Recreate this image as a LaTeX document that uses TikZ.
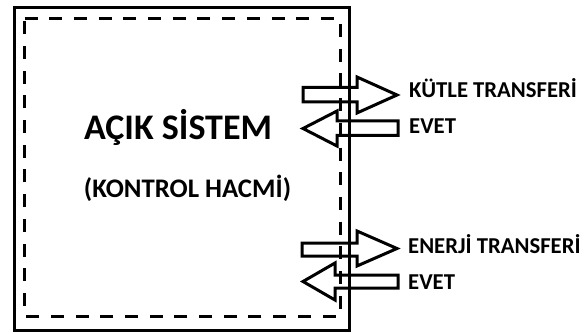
\documentclass[tikz,border=0pt]{standalone}
\usepackage{fontspec}
\setmainfont{Carlito}
\begin{document}
\begin{tikzpicture}[x=1pt,y=-1pt,
  box/.style={line width=3pt},
  cv/.style={line width=3pt,dash pattern=on 13pt off 11.7pt},
  flow/.style={line width=3pt,line join=miter},
  lbl/.style={anchor=base west,inner sep=0pt,font=\bfseries\fontsize{22.7}{22.7}\selectfont},
  title/.style={anchor=base,inner sep=0pt}]
\useasboundingbox (0,0) rectangle (586,334);
% system boundary and control volume
\draw[box] (14.5,7.5) rectangle (349,330);
\draw[cv] (24.5,18.5) -- (340,18.5) -- (340,316) -- (24.5,316) -- cycle;
% titles
\node[title,font=\bfseries\fontsize{36}{36}\selectfont] (t1) at (178,139.5) {AÇIK SİSTEM};
\node[title,font=\bfseries\fontsize{26.8}{26.8}\selectfont] (t2) at (187.5,197.5) {(KONTROL HACMİ)};
% mass transfer arrows
\draw[flow] (303,87.5) -- (357,87.5) -- (357,77) -- (397,95) -- (357,113) -- (357,102) -- (303,102) -- cycle;
\draw[flow] (398,121) -- (337,121) -- (337,111) -- (303,128.5) -- (337,146) -- (337,135.5) -- (398,135.5) -- cycle;
% energy transfer arrows
\draw[flow] (302,243) -- (357,243) -- (357,231) -- (397,248.5) -- (357,266) -- (357,256) -- (302,256) -- cycle;
\draw[flow] (398,275) -- (335,275) -- (335,263) -- (303,281.5) -- (335,300) -- (335,288) -- (398,288) -- cycle;
% labels
\node[lbl] (m1) at (409,98) {KÜTLE TRANSFERİ};
\node[lbl] (m2) at (409,134) {EVET};
\node[lbl] (e1) at (408,253.5) {ENERJİ TRANSFERİ};
\node[lbl] (e2) at (408,289.5) {EVET};
\end{tikzpicture}
\end{document}
